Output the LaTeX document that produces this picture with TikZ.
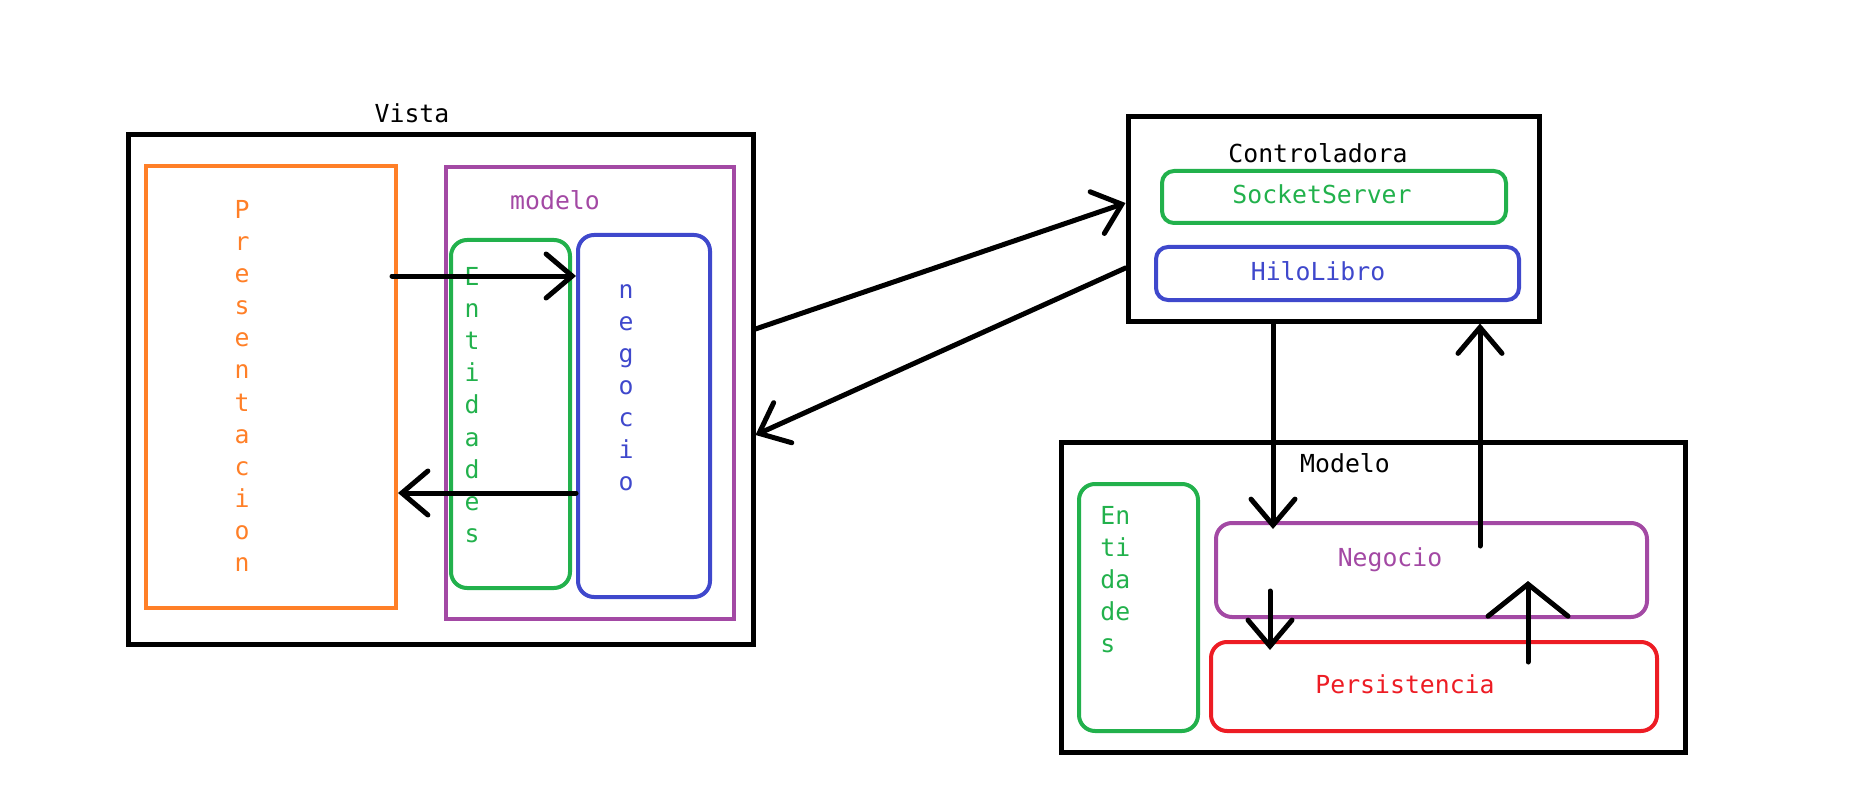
\documentclass[tikz,border=0pt]{standalone}
\usepackage{fontspec}
\setmonofont{DejaVu Sans Mono}
\usetikzlibrary{arrows.meta,fit,calc}
\definecolor{porange}{RGB}{255,127,39}
\definecolor{ppurple}{RGB}{163,73,164}
\definecolor{pgreen}{RGB}{34,177,76}
\definecolor{pblue}{RGB}{63,72,204}
\definecolor{pred}{RGB}{237,28,36}
\begin{document}
\begin{tikzpicture}[x=0.5pt,y=-0.5pt,
  every node/.style={font=\ttfamily\fontsize{12.4}{15}\selectfont},
  frame/.style={draw=black,line width=2.5pt,inner sep=0pt},
  layer/.style={draw=#1,line width=2pt,inner sep=0pt},
  roundlayer/.style={draw=#1,line width=2pt,inner sep=0pt,rounded corners=8pt},
  vtext/.style={align=center,inner sep=0pt},
  arr/.style={draw=black,line width=2.5pt,line cap=round,
    -{Straight Barb[length=13pt,width=22pt,line cap=round]}},
  bigarr/.style={draw=black,line width=2.5pt,line cap=round,
    -{Straight Barb[length=16pt,width=40pt,line cap=round]}}]
\useasboundingbox (0,0) rectangle (1860,797);

% ---- Vista ----
\node[frame,fit={(128,135) (753,644)}] (vista) {};
\node (vistalbl) at (412,113) {Vista};
\node[layer=porange,fit={(146,166) (396,608)}] (pres) {};
\node[vtext,text=porange,font=\ttfamily\fontsize{12.4}{16.05}\selectfont] (prestxt) at (242,386)
  {P\\r\\e\\s\\e\\n\\t\\a\\c\\i\\o\\n};
\node[layer=ppurple,fit={(446,167) (734,619)}] (modelo) {};
\node[text=ppurple] (modelotxt) at (555,200) {modelo};
\node[roundlayer=pgreen,fit={(451,240) (570,588)}] (ent) {};
\node[vtext,text=pgreen,font=\ttfamily\fontsize{12.4}{16.1}\selectfont] (enttxt) at (472,405)
  {E\\n\\t\\i\\d\\a\\d\\e\\s};
\node[roundlayer=pblue,fit={(578,235) (710,597)}] (neg) {};
\node[vtext,text=pblue,font=\ttfamily\fontsize{12.4}{16}\selectfont] (negtxt) at (626,388)
  {n\\e\\g\\o\\c\\i\\o};

% ---- Controladora ----
\node[frame,fit={(1128,117) (1539,321)}] (ctrl) {};
\node (ctrllbl) at (1318,153) {Controladora};
\node[roundlayer=pgreen,rounded corners=6pt,fit={(1162,171) (1506,223)}] (sock) {};
\node[text=pgreen] (socktxt) at (1322,194) {SocketServer};
\node[roundlayer=pblue,rounded corners=6pt,fit={(1156,247) (1519,300)}] (hilo) {};
\node[text=pblue] (hilotxt) at (1318,271) {HiloLibro};

% ---- Modelo ----
\node[frame,fit={(1061,442) (1685,752)}] (mod) {};
\node (modlbl) at (1345,463) {Modelo};
\node[roundlayer=pgreen,fit={(1079,484) (1198,731)}] (ment) {};
\node[align=left,inner sep=0pt,anchor=west,text=pgreen,font=\ttfamily\fontsize{12.4}{16}\selectfont]
  (menttxt) at (1100,580) {En\\ti\\da\\de\\s};
\node[roundlayer=ppurple,fit={(1216,523) (1647,617)}] (mneg) {};
\node[text=ppurple] (mnegtxt) at (1390,560) {Negocio};
\node[roundlayer=pred,fit={(1211,642) (1657,731)}] (pers) {};
\node[text=pred] (perstxt) at (1405,684) {Persistencia};

% ---- connectors ----
\draw[arr] ([xshift=-3pt]pres.east |- 0,276) -- (neg.west |- 0,276);
\draw[arr] (neg.west |- 0,493) -- (pres.east |- 0,493);
\draw[arr] (vista.east |- 0,329) -- (ctrl.west |- 0,203);
\draw[arr] (ctrl.west |- 0,268) -- (vista.east |- 0,435);
\draw[arr] (ctrl.south -| 1273,0) -- ($(mneg.north -| 1273,0)+(0,8)$);
\draw[arr] (1480,546) -- (ctrl.south -| 1480,0);
\draw[arr] (1270,591) -- ($(pers.north -| 1270,0)+(0,10)$);
\draw[bigarr] (1528,662) -- ($(mneg.south -| 1528,0)+(0,-38)$);
\end{tikzpicture}
\end{document}
